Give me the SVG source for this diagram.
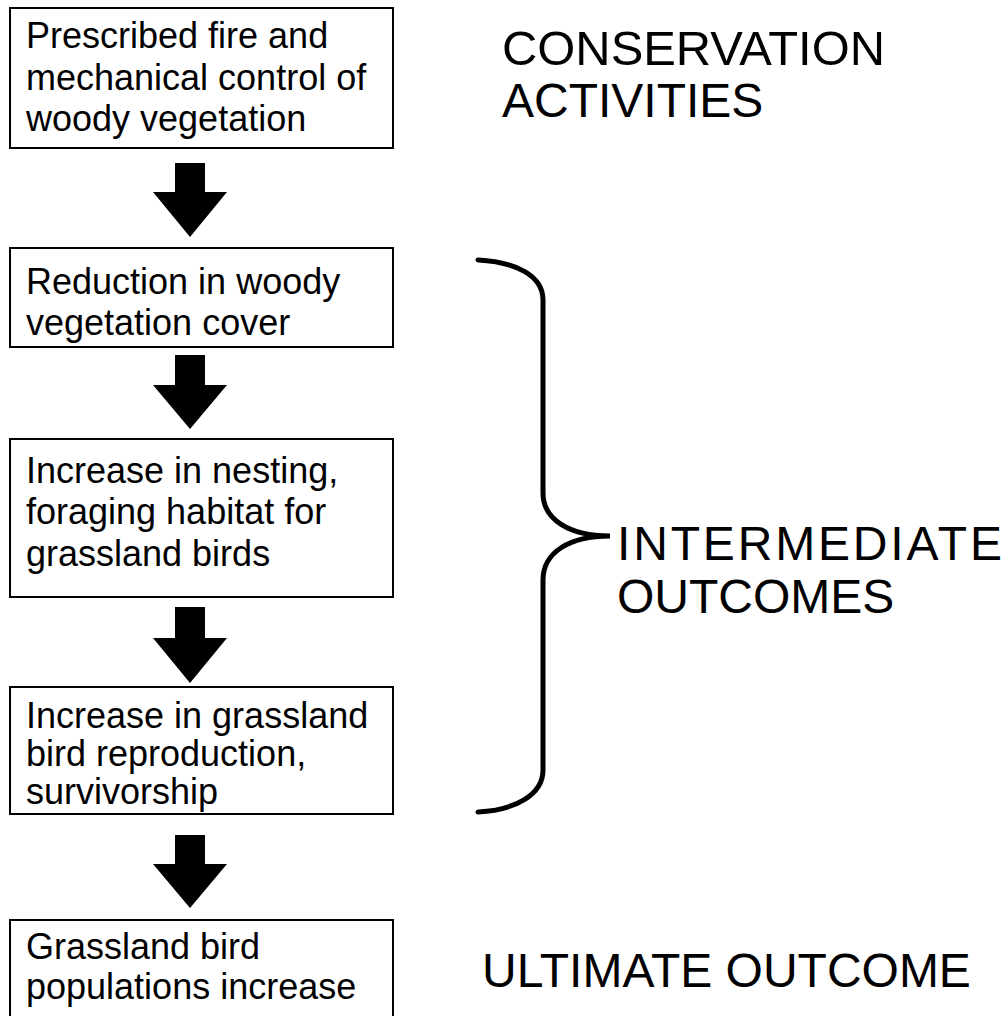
<svg xmlns="http://www.w3.org/2000/svg" width="1006" height="1016" viewBox="0 0 1006 1016">
<style>
.box{fill:#fff;stroke:#000;stroke-width:2}
.t{font-family:"Liberation Sans",Arial,sans-serif;font-size:36px;fill:#000}
.big{font-family:"Liberation Sans",Arial,sans-serif;font-size:48px;fill:#000}
.arr{fill:#000}
</style>
<rect width="1006" height="1016" fill="#fff"/>
<g id="n1"><rect class="box" x="10" y="8" width="383" height="140"/>
<text class="t" x="26" y="48">Prescribed fire and</text>
<text class="t" x="26" y="90">mechanical control of</text>
<text class="t" x="26" y="131">woody vegetation</text></g>
<g id="n2"><rect class="box" x="10" y="248" width="383" height="99"/>
<text class="t" x="26" y="294">Reduction in woody</text>
<text class="t" x="26" y="335">vegetation cover</text></g>
<g id="n3"><rect class="box" x="10" y="439" width="383" height="158"/>
<text class="t" x="26" y="483">Increase in nesting,</text>
<text class="t" x="26" y="524">foraging habitat for</text>
<text class="t" x="26" y="566">grassland birds</text></g>
<g id="n4"><rect class="box" x="10" y="687" width="383" height="127"/>
<text class="t" x="26" y="728">Increase in grassland</text>
<text class="t" x="26" y="766">bird reproduction,</text>
<text class="t" x="26" y="804">survivorship</text></g>
<g id="n5"><rect class="box" x="10" y="920" width="383" height="110"/>
<text class="t" x="26" y="959">Grassland bird</text>
<text class="t" x="26" y="999">populations increase</text></g>
<g id="connectors">
<polygon class="arr" points="175,163 205,163 205,192 227,192 190,237 153,192 175,192"/>
<polygon class="arr" points="175,355 205,355 205,385 227,385 190,429 153,385 175,385"/>
<polygon class="arr" points="175,607 205,607 205,638 227,638 190,683 153,638 175,638"/>
<polygon class="arr" points="175,835 205,835 205,864 227,864 190,908 153,864 175,864"/>
</g>
<g id="brace"><path d="M478,260 C515,262 543,275 543,300 L543,493 C543,520 570,536 610,536 C570,536 543,552 543,580 L543,770 C543,795 515,810 478,812" fill="none" stroke="#000" stroke-width="5" stroke-linecap="round"/></g>
<g id="labels">
<text class="big" x="502" y="65" textLength="383" lengthAdjust="spacingAndGlyphs">CONSERVATION</text>
<text class="big" x="502" y="117">ACTIVITIES</text>
<text class="big" x="617" y="560" textLength="385" lengthAdjust="spacing">INTERMEDIATE</text>
<text class="big" x="617" y="613">OUTCOMES</text>
<text class="big" x="482" y="987">ULTIMATE OUTCOME</text>
</g>
</svg>
